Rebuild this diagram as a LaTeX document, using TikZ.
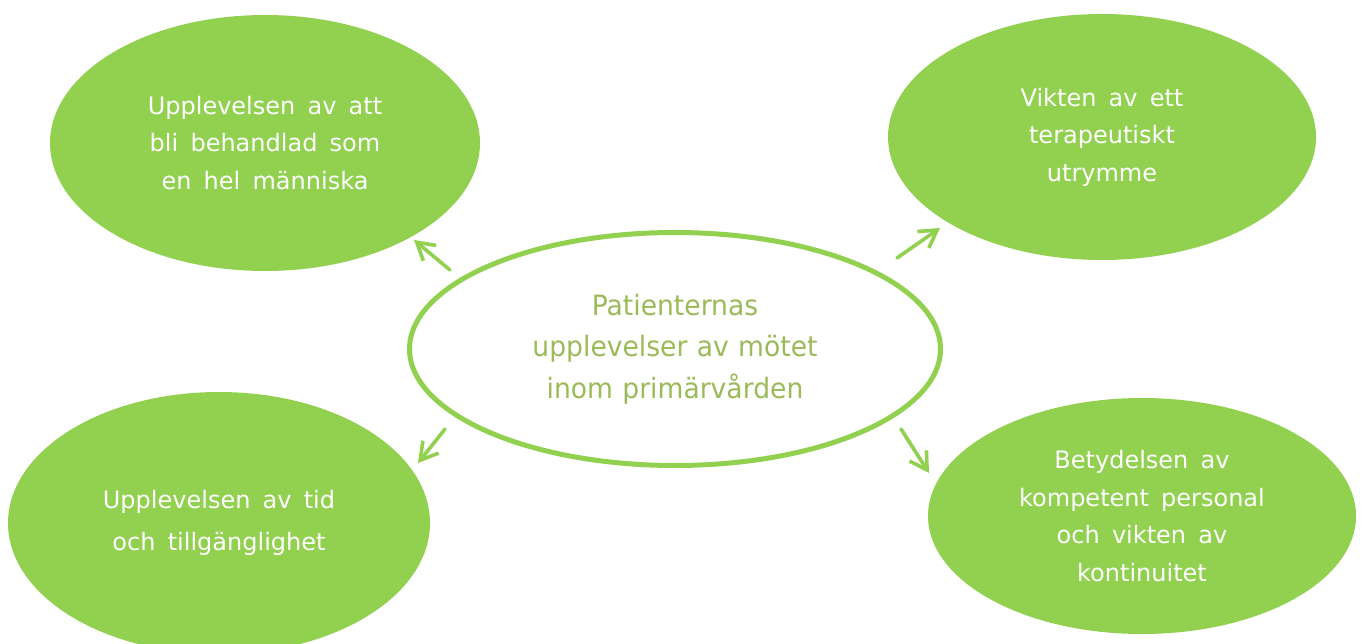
\documentclass[tikz,border=0pt]{standalone}
\usepackage{fontspec}
\setmainfont{DejaVu Sans}
\newfontfamily\themefont{DejaVu Sans}[WordSpace=1.6]
\newfontfamily\hubfont{DejaVu Sans}[FakeStretch=0.95,WordSpace=1.1]
\usetikzlibrary{shapes.geometric,arrows.meta}
\definecolor{leaf}{HTML}{92D050}
\definecolor{olive}{HTML}{9BBB59}
\tikzset{
  theme/.style={ellipse, fill=leaf, draw=none, inner sep=0pt, align=center,
    text=white, font=\themefont\fontsize{24}{37.5}\selectfont},
  hub/.style={ellipse, draw=leaf, line width=5pt, fill=white, inner sep=0pt,
    align=center, text=olive, font=\hubfont\fontsize{28}{41.5}\selectfont,
    minimum width=531pt, minimum height=233pt},
  link/.style={draw=leaf, line width=3.6pt, line cap=round,
    -{Straight Barb[length=17pt,width=20pt,line width=3.6pt]}}
}
\begin{document}
\begin{tikzpicture}[x=1pt,y=-1pt]
\useasboundingbox (0,0) rectangle (1365,644);
\fill[white] (0,0) rectangle (1365,644);

\node[theme, minimum width=430pt, minimum height=256pt] (tl) at (265,143)
  {Upplevelsen av att\\bli behandlad som\\en hel människa};
\node[theme, minimum width=428pt, minimum height=246pt] (tr) at (1102,137)
  {Vikten av ett\\terapeutiskt\\utrymme};
\node[theme, minimum width=422pt, minimum height=262pt] (bl) at (219,523)
  {Upplevelsen av tid\\[5pt]och tillgänglighet};
\node[theme, minimum width=428pt, minimum height=236pt] (br) at (1142,516)
  {Betydelsen av\\kompetent personal\\och vikten av\\kontinuitet};

\node[hub] (hub) at (675,349)
  {Patienternas\\upplevelser av mötet\\inom primärvården};

% arrow end points between the hub and the surrounding themes
\coordinate (s1) at (450,270); \coordinate (e1) at (414,240);
\coordinate (s2) at (897,258); \coordinate (e2) at (940,228);
\coordinate (s3) at (445,429); \coordinate (e3) at (418,463);
\coordinate (s4) at (901,429); \coordinate (e4) at (929,473);

\draw[link] (s1) -- (e1);
\draw[link] (s2) -- (e2);
\draw[link] (s3) -- (e3);
\draw[link] (s4) -- (e4);
\end{tikzpicture}
\end{document}
